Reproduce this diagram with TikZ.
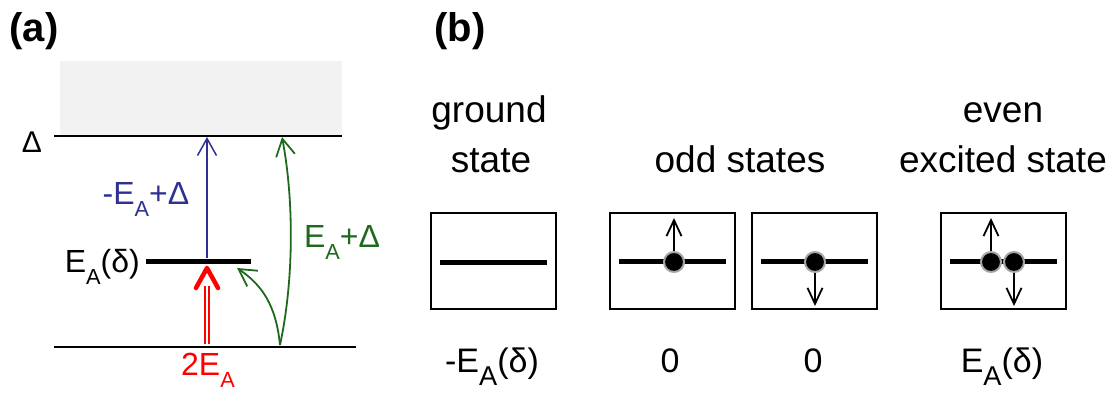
\documentclass[tikz,border=0pt]{standalone}
\usepackage{fontspec}
\setmainfont{Liberation Sans}
\usetikzlibrary{arrows.meta,calc}
\definecolor{bandgray}{RGB}{242,242,242}
\definecolor{myblue}{RGB}{46,49,146}
\definecolor{mygreen}{RGB}{30,105,30}
\definecolor{myred}{RGB}{255,0,0}
\newcommand\subA[1][0.68]{\raisebox{-0.36em}{\scalebox{#1}{A}}}
\begin{document}
\begin{tikzpicture}[x=1pt,y=-1pt,
  lev/.style={line width=1.5pt},
  fatbar/.style={line width=5pt},
  barb/.style={-{Straight Barb[length=17pt,width=19pt]}},
  spinarr/.style={line width=1.8pt,-{Straight Barb[length=16pt,width=15pt]}},
  lbla/.style={font=\fontsize{32}{36}\selectfont, inner sep=0pt},
  lblb/.style={font=\fontsize{37}{50}\selectfont, inner sep=0pt, align=center},
  lblc/.style={font=\fontsize{34}{38}\selectfont, inner sep=0pt},
  panel/.style={font=\fontsize{40}{44}\selectfont\bfseries, inner sep=0pt},
  statebox/.style={draw, line width=2pt, minimum width=125pt, minimum height=96pt, inner sep=0pt},
  electron/.style={circle, fill=black, draw=gray!70, line width=2pt, minimum size=20pt, inner sep=0pt}
]
\useasboundingbox (0,0) rectangle (1112,395);

% ---------- panel (a) ----------
\node[panel] (pa) at (34,31) {(a)};
\fill[bandgray] (60,61) rectangle (342,136);

\coordinate (dL) at (54,136);  \coordinate (dR) at (342,136);
\coordinate (gL) at (54,347);  \coordinate (gR) at (356,347);
\coordinate (eL) at (146,262); \coordinate (eR) at (251,262);
\draw[lev] (dL) -- (dR);
\draw[lev] (gL) -- (gR);
\draw[fatbar] (eL) -- (eR);

\node[lbla, font=\fontsize{30}{34}\selectfont, anchor=base] (ldelta) at (32,153) {Δ};
\node[lbla, anchor=base east] (lea) at (140,273) {E\subA(δ)};

% blue arrow
\coordinate (bS) at (207,258);
\coordinate (bT) at (207,137);
\draw[myblue, line width=1.5pt, barb] (bS) -- (bT);
\node[lbla, anchor=base, text=myblue] (lblue) at (146,205) {-E\subA+Δ};

% red double arrow
\coordinate (rS) at (207,344);
\coordinate (rM) at (207,286);
\coordinate (rT) at (207,268);
\draw[myred, line width=1.3pt, double=white, double distance=2.6pt] (rS) -- (rM);
\draw[myred, line width=4.5pt, line cap=round, line join=round]
  ($(rT)+(-11,20)$) -- (rT) -- ($(rT)+(11,20)$);
\node[lbla, anchor=base, text=myred] (lred) at (208,376) {2E\subA};

% green arrows
\coordinate (gS) at (280,345);
\coordinate (gE1) at (237,268);
\coordinate (gE2) at (282,137);
\draw[mygreen, line width=1.8pt, barb] (gS) .. controls (276,305) and (262,285) .. (gE1);
\draw[mygreen, line width=1.8pt, barb] (gS) .. controls (294,280) and (294,200) .. (gE2);
\node[lbla, anchor=base, text=mygreen] (lgreen) at (342,248) {E\subA+Δ};

% ---------- panel (b) ----------
\node[panel] (pb) at (460,31) {(b)};

\node[lblb, anchor=base] (t1a) at (489,123) {ground};
\node[lblb, anchor=base] (t1b) at (491,173) {state};
\node[lblb, anchor=base] (t2) at (740,173) {odd states};
\node[lblb, anchor=base] (t3a) at (1003,123) {even};
\node[lblb, anchor=base] (t3b) at (1003,173) {excited state};

\node[statebox] (b1) at (493.5,261.5) {};
\node[statebox] (b2) at (672.5,261) {};
\node[statebox] (b3) at (814.5,261) {};
\node[statebox] (b4) at (1003.5,261) {};

\foreach \b in {b1,b2,b3,b4}{
  \draw[fatbar] ($(\b.west)+(10,1)$) -- ($(\b.east)+(-10,1)$);
}

% electrons and spins
\node[electron] (c2) at (674,262) {};
\coordinate (u2) at (674,218);
\draw[spinarr] (c2.north) -- (u2);

\node[electron] (c3) at (815,262) {};
\coordinate (d3) at (815,306);
\draw[spinarr] (c3.south) -- (d3);

\node[electron] (c4a) at (991,262) {};
\node[electron] (c4b) at (1014,262) {};
\coordinate (u4) at (991,218);
\coordinate (d4) at (1014,306);
\draw[spinarr] (c4a.north) -- (u4);
\draw[spinarr] (c4b.south) -- (d4);

\node[lblc, anchor=base] (e1) at (492,373) {-E\subA[0.8](δ)};
\node[lblc, anchor=base] (e2) at (670,373) {0};
\node[lblc, anchor=base] (e3) at (813,373) {0};
\node[lblc, anchor=base] (e4) at (1002,373) {E\subA[0.8](δ)};
\end{tikzpicture}
\end{document}
